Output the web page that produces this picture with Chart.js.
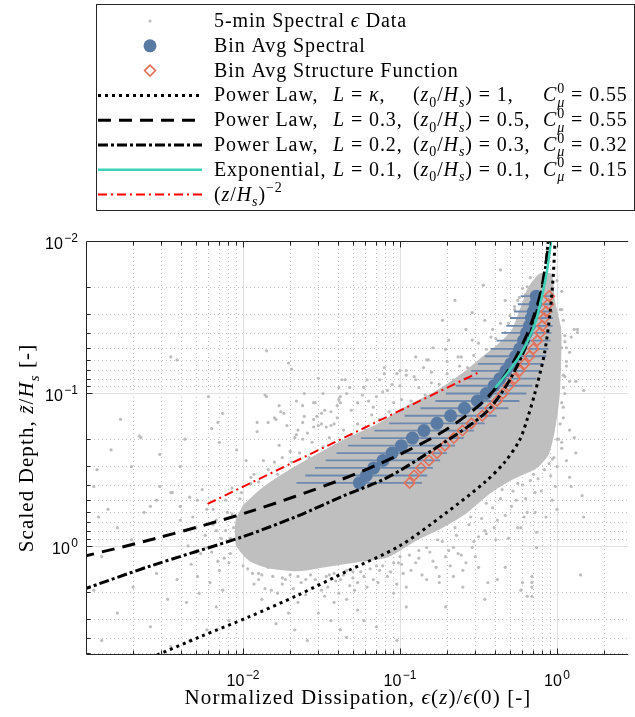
<!DOCTYPE html>
<html lang="en">
<head>
<meta charset="utf-8">
<title>Scaled depth vs normalized dissipation</title>
<script src="https://cdn.jsdelivr.net/npm/chart.js@4.4.1/dist/chart.umd.min.js"></script>
<style>
  html, body { margin: 0; padding: 0; background: #ffffff; }
  canvas { display: block; }
</style>
</head>
<body>
<canvas id="graphe" width="635" height="717"></canvas>
<script>
// depth of each bin, z/Hs (same bins for both averages)
const binDepth = [0.386, 0.345, 0.308, 0.275, 0.246, 0.220, 0.196, 0.175, 0.157, 0.140, 0.125, 0.112, 0.100,
  0.089, 0.080, 0.071, 0.064, 0.057, 0.051, 0.045, 0.040, 0.036, 0.032, 0.029, 0.026, 0.023]
// bin average of the spectral estimates, with the ends of its horizontal error bar
const specAvg = [0.055, 0.061, 0.068, 0.078, 0.089, 0.102, 0.120, 0.142, 0.172, 0.210, 0.257, 0.311, 0.354,
  0.397, 0.433, 0.472, 0.507, 0.545, 0.578, 0.612, 0.639, 0.667, 0.687, 0.707, 0.728, 0.738]
const specLo = [0.0219, 0.0249, 0.0287, 0.0336, 0.0394, 0.0467, 0.0563, 0.0688, 0.0853, 0.107, 0.135, 0.168, 0.196,
  0.226, 0.254, 0.284, 0.314, 0.347, 0.378, 0.412, 0.442, 0.475, 0.502, 0.532, 0.563, 0.587]
const specHi = [0.138, 0.149, 0.162, 0.180, 0.199, 0.224, 0.255, 0.295, 0.346, 0.412, 0.490, 0.576, 0.638,
  0.696, 0.739, 0.784, 0.819, 0.856, 0.883, 0.909, 0.923, 0.938, 0.940, 0.940, 0.942, 0.930]
// bin average of the structure function estimates
const sfAvg = [0.115, 0.123, 0.136, 0.153, 0.172, 0.193, 0.220, 0.250, 0.285, 0.334, 0.375, 0.415, 0.452,
  0.493, 0.538, 0.578, 0.621, 0.667, 0.707, 0.749, 0.782, 0.805, 0.829, 0.853, 0.878, 0.891]

// model curves (x = eps/eps0, y = z/Hs)
const kappaX = [0.00258, 0.00530, 0.0109, 0.0224, 0.0462, 0.0993, 0.196, 0.349, 0.466, 0.578, 0.649, 0.718, 0.828, 0.904, 0.944, 0.972, 0.986]
const kappaY = [5.42, 3.95, 2.92, 2.10, 1.46, 1.00, 0.608, 0.380, 0.281, 0.202, 0.145, 0.102, 0.0560, 0.0292, 0.0175, 0.0100, 0.00785]
const l03X = [0.000937, 0.00285, 0.0109, 0.0400, 0.0951, 0.196, 0.349, 0.500, 0.649, 0.771, 0.841, 0.891, 0.917]
const l03Y = [1.18, 0.887, 0.598, 0.375, 0.257, 0.173, 0.110, 0.0681, 0.0401, 0.0237, 0.0150, 0.0100, 0.00785]
const l02X = [0.000937, 0.00258, 0.00986, 0.0224, 0.0418, 0.0822, 0.169, 0.349, 0.500, 0.649, 0.771, 0.841, 0.879, 0.904]
const l02Y = [1.945, 1.352, 0.873, 0.635, 0.478, 0.358, 0.2275, 0.1343, 0.0815, 0.0459, 0.0251, 0.0155, 0.0100, 0.00785]
const expoX = [0.403, 0.500, 0.594, 0.718, 0.805, 0.865, 0.917, 0.944]
const expoY = [0.0921, 0.0701, 0.0542, 0.0356, 0.0226, 0.0155, 0.0100, 0.00785]
const puissX = [0.00595, 0.311]
const puissY = [0.530, 0.0734]

// 5-min estimates, stored as [log10(eps/eps0), log10(z/Hs)]
const cloudLog = [
  [-1.85,-1.28],[-1.71,-1.20],[-2.46,-1.24],[-1.85,-0.98],[-1.61,-1.00],[-1.49,-1.00],[-2.22,-0.98],[-2.13,-0.87],
  [-2.16,-0.81],[-2.20,-0.77],[-2.66,-0.72],[-1.77,-0.92],[-1.76,-0.88],[-1.74,-0.87],[-1.91,-0.81],[-1.84,-0.81],
  [-1.79,-0.83],[-1.66,-0.95],[-1.62,-0.92],[-1.55,-0.94],[-1.53,-0.85],[-1.44,-0.88],[-1.40,-0.84],[-1.52,-0.79],
  [-1.62,-0.81],[-1.66,-0.73],[-1.59,-0.74],[-1.55,-0.78],[-1.47,-0.78],[-1.42,-0.80],[-1.39,-0.96],[-1.39,-1.04],
  [-1.37,-1.09],[-1.86,-0.99],[-1.80,-0.84],[-1.91,-0.75],[-1.72,-0.79],[-1.67,-0.71],[-1.61,-0.85],[-1.54,-0.94],
  [-1.50,-0.87],[-1.44,-0.79],[-1.38,-0.94],[-1.34,-1.00],[-1.27,-0.94],[-1.23,-1.04],[-1.17,-0.91],[-1.13,-1.09],
  [-1.08,-1.02],[-1.02,-1.13],[-0.96,-1.15],[-0.90,-1.09],[-0.85,-1.17],[-0.82,-1.22],[-1.10,-1.17],[-1.35,-1.09],
  [-1.52,-1.10],[-1.69,-1.16],[-2.42,-1.22],[-2.15,-0.68],[-2.04,-0.63],[-1.98,-0.56],[-2.40,-0.52],[-2.65,-0.71],
  [-2.71,-0.52],[-2.46,-0.35],[-2.59,-0.26],[-2.29,-0.30],[-2.23,-0.24],[-2.40,-0.17],[-2.17,-0.17],[-2.11,-0.10],
  [-0.36,-1.81],[-0.47,-1.71],[-0.27,-1.57],[-0.65,-1.61],[-0.73,-1.48],[-0.54,-1.53],[-0.41,-1.42],[-0.69,-1.35],
  [-0.79,-1.30],[-0.90,-1.24],[-0.54,-1.35],[-1.10,-1.13],[-1.21,-1.09],[-1.00,-1.15],[-1.32,-1.04],[-1.38,-0.98],
  [-1.15,-0.98],[-1.48,-0.89],[-0.63,-1.24],[0.11,-1.42],[0.13,-1.40],[-0.19,-1.70],[-0.14,-1.72],[-0.58,-1.42],
  [-0.46,-1.48],[-0.33,-1.61],[-0.83,-1.22],[-0.71,-1.29],[-0.96,-1.12],[-1.05,-1.06],[-1.24,-0.99],[-1.40,-0.92],
  [-1.55,-0.83],[-1.65,-0.76],[-1.77,-0.66],[-1.87,-0.56],[-1.93,-0.47],
  [0.03,-1.67],[0.13,-1.42],[0.09,-1.37],[0.06,-1.30],[0.08,-1.27],[0.06,-1.21],[0.08,-1.08],[0.12,-1.08],
  [0.17,-1.02],[0.04,-1.04],[0.08,-0.76],[0.11,-0.71],[0.03,-0.68],[0.12,-0.61],[0.06,-0.56],[0.08,-0.45],
  [0.16,-0.33],[0.09,-0.39],[-0.01,-0.39],[-0.03,-0.30],[0.17,-0.19],[0.00,-0.24],[-0.07,-0.19],[-0.14,-0.22],
  [-0.21,-0.19],[-0.13,-0.09],[-0.23,-0.12],[0.15,0.19],[-0.16,0.24],[-0.22,0.24],[-0.19,0.33],[-0.16,0.33],
  [-1.82,0.29],[-1.73,0.22],[-1.65,0.20],[-1.61,0.14],[-1.54,0.22],[-1.50,0.29],[-1.42,0.18],[-1.38,0.22],
  [-1.34,0.16],[-1.27,0.24],[-1.29,0.29],[-1.23,0.20],[-1.17,0.22],[-1.13,0.16],[-1.08,0.20],[-1.04,0.11],
  [-1.00,0.07],[-0.98,0.18],[-0.96,0.27],[-0.90,0.11],[-0.83,0.22],[-0.77,0.14],[-0.75,0.20],[-0.71,0.07],
  [-0.66,0.01],[-0.63,0.05],[-0.60,0.16],[-0.54,0.01],[-0.50,-0.06],[-0.46,-0.10],[-0.39,-0.04],[-0.38,-0.17],
  [-0.33,0.14],[-0.29,-0.26],[-0.25,-0.12],[-0.19,-0.22],[-0.14,-0.35],[-0.16,0.27],[-0.13,0.01],[-1.48,0.33],
  [-1.42,0.37],[-1.52,0.44],[-1.44,0.49],[-1.34,0.35],[-1.27,0.42],[-1.23,0.49],[-1.38,0.55],[-1.34,0.60],
  [-1.79,0.51],[-1.71,0.44],[-1.65,0.37],[-1.88,0.35],[-1.94,0.18],[-1.90,0.22],[-1.84,0.14],[-1.77,0.09],
  [-0.96,0.40],[-1.04,0.31],[-0.60,0.27],[-0.50,0.14],[-0.44,0.24],[-0.46,0.35],[-0.83,0.01],[-0.75,0.24],
  [-0.66,0.20],[-0.58,0.11],[-0.38,0.22],[-0.23,0.29],[-0.16,0.20],[-0.71,0.40],[-1.15,0.53],[-1.02,0.62],
  [-1.59,0.62],[-1.67,0.55],
  [-2.95,-0.39],[-2.86,-0.24],[-2.92,-0.19],[-2.80,-0.12],[-2.90,0.07],[-2.95,0.29],[-2.71,-0.04],[-2.63,-0.22],
  [-2.55,-0.30],[-2.53,-0.39],[-2.45,-0.35],[-2.40,-0.26],[-2.34,-0.32],[-2.32,-0.19],[-2.26,-0.37],[-2.19,-0.24],
  [-2.17,-0.10],[-2.23,0.01],[-2.29,0.20],[-2.42,0.22],[-2.55,0.18],[-2.70,0.27],[-2.80,0.44],[-2.59,0.53],
  [-2.48,0.35],[-2.36,0.37],[-2.28,0.31],[-2.21,0.24],[-2.15,0.16],[-2.09,0.11],[-2.13,0.29],[-2.17,0.40],
  [-2.09,0.49],[-2.23,0.55],[-2.34,0.62],[-2.46,0.66],[-2.93,-0.50],[-2.84,-0.63],[-2.53,-0.60],[-2.37,-0.70],
  [-2.78,-0.83],[-2.90,0.62],
  [-1.80,-0.55],[-1.70,-0.62],[-1.62,-0.70],[-1.50,-0.80],[-1.31,-0.89],[-1.20,-0.95],[-1.11,-1.01],[-1.00,-1.05],
  [-0.91,-1.11],[-0.80,-1.14],[-0.70,-1.21],[-0.61,-1.24],[-0.50,-1.33],[-0.42,-1.37],[-0.36,-1.46],[-0.30,-1.51],
  [-0.25,-1.61],[-0.20,-1.65],[-1.95,-0.41],[-2.02,-0.31],[-2.07,-0.21],[-2.08,-0.05],
  [-2.00,0.13],[-1.90,0.18],[-1.75,0.21],[-1.60,0.22],[-1.45,0.19],[-1.30,0.17],[-1.15,0.13],[-1.01,0.11],
  [-0.88,0.03],[-0.76,-0.04],[-0.65,-0.12],[-0.55,-0.19],[-0.45,-0.28],[-0.35,-0.37],[-0.25,-0.41],[-0.15,-0.47],
  [-0.05,-0.54],[0.00,-0.70],[0.04,-0.91],[0.05,-1.11],[0.05,-1.34],[0.02,-1.55],
  // fringe just outside the dense core
  [-1.97,0.15],[-1.93,0.25],[-1.88,0.19],[-1.86,0.28],[-1.81,0.20],[-1.78,0.31],[-1.75,0.25],[-1.70,0.19],
  [-1.68,0.28],[-1.63,0.24],[-1.60,0.32],[-1.57,0.19],[-1.52,0.25],[-1.47,0.20],[-1.46,0.27],[-1.41,0.23],
  [-1.39,0.31],[-1.36,0.19],[-1.32,0.26],[-1.30,0.21],[-1.25,0.17],[-1.21,0.27],[-1.19,0.15],[-1.14,0.24],
  [-1.11,0.13],[-1.06,0.17],[-1.02,0.25],[-0.99,0.12],[-0.94,0.06],[-0.93,0.16],[-0.88,0.08],[-0.86,0.19],
  [-0.81,0.04],[-0.79,0.10],[-0.73,-0.03],[-0.69,0.03],[-0.68,0.13],[-0.64,-0.07],[-0.61,0.06],[-0.56,-0.14],
  [-0.53,-0.03],[-0.52,0.07],[-0.48,-0.18],[-0.45,-0.08],[-0.41,-0.25],[-0.40,-0.12],[-0.36,-0.31],[-0.33,-0.20],
  [-0.31,-0.05],[-0.28,-0.36],[-0.26,-0.30],[-0.22,-0.40],[-0.20,-0.31],[-0.17,-0.43],[-0.12,-0.44],[-0.10,-0.36],
  [-0.08,-0.50],[-0.04,-0.46],[-0.03,-0.57],[0.00,-0.52],
  [-2.10,-0.22],[-2.14,-0.05],[-2.08,0.05],[-2.19,-0.14],[-2.12,0.08],[-2.24,-0.07],[-2.06,-0.12],[-2.11,-0.30],
  [-2.27,0.05],[-2.16,0.10],[-2.30,-0.12],[-2.20,0.04],[-2.07,-0.38],[-2.35,0.00],[-2.33,0.12],
  [-2.01,-0.35],[-1.95,-0.45],[-1.90,-0.42],[-1.84,-0.50],[-1.78,-0.47],[-1.75,-0.58],[-1.69,-0.55],[-1.64,-0.61],
  [-1.58,-0.58],[-1.56,-0.68],[-1.49,-0.65],[-1.45,-0.71],[-1.41,-0.66],[-1.36,-0.76],[-1.31,-0.73],[-1.27,-0.80],
  [-1.22,-0.76],[-1.18,-0.86],[-1.13,-0.83],[-1.07,-0.88],[-1.04,-0.94],[-0.99,-0.96],[-0.93,-0.95],[-0.88,-1.04],
  [-0.84,-0.99],[-0.80,-1.07],[-0.75,-1.06],[-0.70,-1.13],[-0.66,-1.09],[-0.62,-1.18],[-0.57,-1.17],[-0.53,-1.25],
  [-0.50,-1.19],[-0.45,-1.29],[-0.42,-1.27],[-0.39,-1.36],[-0.33,-1.40],[-0.31,-1.46],[-0.27,-1.55],[-0.24,-1.63],
  [-0.22,-1.69],[-0.17,-1.76],
  [0.00,-1.74],[0.03,-1.55],[0.04,-1.48],[0.05,-1.38],[0.03,-1.30],[0.06,-1.18],[0.04,-1.12],[0.05,-1.00],
  [0.03,-0.94],[0.04,-0.84],[0.02,-0.80],[0.01,-0.70],[0.03,-0.64],[-0.02,-0.58]
]
// outline of the dense core of the cloud, same log10 form
const coreLog = [
  [-1.99,-0.27],[-1.87,-0.38],[-1.71,-0.49],[-1.52,-0.60],[-1.34,-0.70],[-1.15,-0.79],[-0.96,-0.91],[-0.77,-1.01],
  [-0.61,-1.12],[-0.48,-1.23],[-0.36,-1.33],[-0.28,-1.42],[-0.22,-1.58],[-0.18,-1.69],[-0.11,-1.78],[-0.04,-1.78],
  [-0.02,-1.61],[0.02,-1.42],[0.02,-1.22],[0.01,-0.98],[-0.02,-0.76],[-0.06,-0.60],[-0.14,-0.51],[-0.27,-0.45],
  [-0.43,-0.35],[-0.58,-0.22],[-0.74,-0.12],[-0.90,-0.04],[-1.08,0.07],[-1.27,0.10],[-1.46,0.13],[-1.65,0.16],
  [-1.84,0.14],[-1.96,0.09],[-2.04,-0.01],[-2.04,-0.17],[-1.99,-0.27]
]

const xTicks = [0.01, 0.1, 1]
const yTicks = [0.01, 0.1, 1]

const pts = (xs, ys) => xs.map((v, i) => ({x: v, y: ys[i]}))
const depuisLog = liste => liste.map(p => ({x: Math.pow(10, p[0]), y: Math.pow(10, p[1])}))

// error bars: one segment per bin, cut by an empty point
let barres = []
for (let i = 0; i < binDepth.length; i++) {
  barres.push({x: specLo[i], y: binDepth[i]}, {x: specHi[i], y: binDepth[i]}, {x: NaN, y: NaN})
}

const serif = '"Liberation Serif", "Times New Roman", serif'
const sans = '"Liberation Sans", Arial, sans-serif'

// text with italic / sub / sup pieces; a number moves the pen to that x
function texteRiche(ctx, morceaux, x, y, taille, dessiner) {
  let cx = x
  for (const m of morceaux) {
    if (typeof m === 'number') { cx = m; continue }
    const t = m[0], st = m[1]
    const petit = st.includes('b') || st.includes('p')
    const fs = petit ? Math.round(taille * 0.7) : taille
    ctx.font = (st.includes('i') ? 'italic ' : '') + fs + 'px ' + serif
    let dy = 0
    if (st.includes('b')) dy = taille * 0.27
    if (st.includes('p')) dy = -taille * 0.42
    if (dessiner) ctx.fillText(t, cx, y + dy)
    if (!st.includes('s')) cx += ctx.measureText(t).width
  }
  return cx - x
}

function puissanceDix(ctx, v, x, y, alignement) {
  const n = Math.round(Math.log10(v))
  const expo = n < 0 ? '\u2212' + (-n) : String(n)
  ctx.font = '16px ' + sans
  const w1 = ctx.measureText('10').width
  ctx.font = '12px ' + sans
  const w2 = ctx.measureText(expo).width
  const total = w1 + w2 + 1.5
  const x0 = alignement === 'droite' ? x - total : x - total / 2
  ctx.font = '16px ' + sans
  ctx.fillText('10', x0, y)
  ctx.font = '12px ' + sans
  ctx.fillText(expo, x0 + w1 + 1.5, y - 7)
}

// dotted minor grid and solid major grid
const grille = {
  id: 'grille',
  beforeDatasetsDraw(chart) {
    const {ctx, chartArea: a, scales: {x, y}} = chart
    ctx.save()
    ctx.lineWidth = 1
    ctx.strokeStyle = '#c4c4c4'
    ctx.setLineDash([1, 3])
    for (let d = -3; d <= 0; d++) {
      for (let m = 2; m <= 9; m++) {
        const v = m * Math.pow(10, d)
        if (v >= x.max) continue
        const px = Math.round(x.getPixelForValue(v)) + 0.5
        ctx.beginPath(); ctx.moveTo(px, a.top); ctx.lineTo(px, a.bottom); ctx.stroke()
      }
    }
    for (let d = -2; d <= 0; d++) {
      for (let m = 2; m <= 9; m++) {
        const v = m * Math.pow(10, d)
        if (v >= y.max) continue
        const py = Math.round(y.getPixelForValue(v)) + 0.5
        ctx.beginPath(); ctx.moveTo(a.left, py); ctx.lineTo(a.right, py); ctx.stroke()
      }
    }
    ctx.setLineDash([])
    ctx.strokeStyle = '#e1e1e1'
    xTicks.forEach(v => {
      const px = Math.round(x.getPixelForValue(v)) + 0.5
      ctx.beginPath(); ctx.moveTo(px, a.top); ctx.lineTo(px, a.bottom); ctx.stroke()
    })
    yTicks.forEach(v => {
      const py = Math.round(y.getPixelForValue(v)) + 0.5
      ctx.beginPath(); ctx.moveTo(a.left, py); ctx.lineTo(a.right, py); ctx.stroke()
    })
    ctx.restore()
  }
}

// axis box, inward ticks, tick labels, axis titles
const cadre = {
  id: 'cadre',
  afterDatasetsDraw(chart) {
    const {ctx, chartArea: a, scales: {x, y}} = chart
    ctx.save()
    ctx.strokeStyle = '#262626'
    ctx.lineWidth = 1
    const gauche = Math.round(a.left) + 0.5, haut = Math.round(a.top) + 0.5, bas = Math.round(a.bottom) - 0.5
    ctx.beginPath()
    ctx.moveTo(a.right, haut); ctx.lineTo(gauche, haut); ctx.lineTo(gauche, bas); ctx.lineTo(a.right, bas)
    ctx.stroke()
    for (let d = -3; d <= 0; d++) {
      for (let m = 1; m <= 9; m++) {
        const v = m * Math.pow(10, d)
        if (v <= x.min || v >= x.max) continue
        const px = Math.round(x.getPixelForValue(v)) + 0.5
        const l = m === 1 ? 6 : 4
        ctx.beginPath()
        ctx.moveTo(px, bas); ctx.lineTo(px, bas - l)
        ctx.moveTo(px, haut); ctx.lineTo(px, haut + l)
        ctx.stroke()
      }
    }
    for (let d = -2; d <= 0; d++) {
      for (let m = 1; m <= 9; m++) {
        const v = m * Math.pow(10, d)
        if (v <= y.min || v >= y.max) continue
        const py = Math.round(y.getPixelForValue(v)) + 0.5
        const l = m === 1 ? 6 : 4
        ctx.beginPath(); ctx.moveTo(gauche, py); ctx.lineTo(gauche + l, py); ctx.stroke()
      }
    }
    ctx.restore()
  },
  afterDraw(chart) {
    const {ctx, chartArea: a, scales: {x, y}} = chart
    ctx.save()
    ctx.fillStyle = '#000000'
    ctx.textBaseline = 'alphabetic'
    xTicks.forEach(v => puissanceDix(ctx, v, x.getPixelForValue(v), 686, 'centre'))
    yTicks.forEach(v => puissanceDix(ctx, v, 78, y.getPixelForValue(v) + 8, 'droite'))

    ctx.letterSpacing = '1.1px'
    const titreX = [['Normalized Dissipation, ', ''], ['ϵ', 'i'], ['(', ''], ['z', 'i'], [')/', ''], ['ϵ', 'i'], ['(0) [-]', '']]
    const wx = texteRiche(ctx, titreX, 0, 0, 21, false)
    texteRiche(ctx, titreX, 358 - wx / 2, 704, 21, true)

    const titreY = [['Scaled Depth, ', ''], ['z\u0303', 'i'], ['/', ''], ['H', 'i'], ['s', 'bi'], [' [-]', '']]
    const wy = texteRiche(ctx, titreY, 0, 0, 21, false)
    ctx.translate(33, (a.top + a.bottom) / 2)
    ctx.rotate(-Math.PI / 2)
    texteRiche(ctx, titreY, -wy / 2, 0, 21, true)
    ctx.restore()
  }
}

// legend box drawn on top of the canvas
const rangees = [
  [214, ['5-min Spectral ', ''], ['ϵ', 'i'], [' Data', '']],
  [214, ['Bin Avg Spectral', '']],
  [214, ['Bin Avg Structure Function', '']],
  [214, ['Power Law,', ''], 333, ['L', 'i'], [' = ', ''], ['κ', 'i'], [',', ''], 413, ['(', ''], ['z', 'i'], ['0', 'b'],
    ['/', ''], ['H', 'i'], ['s', 'bi'], [') = 1,', ''], 543, ['C', 'i'], ['0', 'ps'], ['μ', 'bi'], [' = 0.55', '']],
  [214, ['Power Law,', ''], 333, ['L', 'i'], [' = 0.3,', ''], 413, ['(', ''], ['z', 'i'], ['0', 'b'],
    ['/', ''], ['H', 'i'], ['s', 'bi'], [') = 0.5,', ''], 543, ['C', 'i'], ['0', 'ps'], ['μ', 'bi'], [' = 0.55', '']],
  [214, ['Power Law,', ''], 333, ['L', 'i'], [' = 0.2,', ''], 413, ['(', ''], ['z', 'i'], ['0', 'b'],
    ['/', ''], ['H', 'i'], ['s', 'bi'], [') = 0.3,', ''], 543, ['C', 'i'], ['0', 'ps'], ['μ', 'bi'], [' = 0.32', '']],
  [214, ['Exponential,', ''], 333, ['L', 'i'], [' = 0.1,', ''], 413, ['(', ''], ['z', 'i'], ['0', 'b'],
    ['/', ''], ['H', 'i'], ['s', 'bi'], [') = 0.1,', ''], 543, ['C', 'i'], ['0', 'ps'], ['μ', 'bi'], [' = 0.15', '']],
  [214, ['(', ''], ['z', 'i'], ['/', ''], ['H', 'i'], ['s', 'bi'], [')', ''], ['\u22122', 'p']]
]
const traits = [
  null, null, null,
  {couleur: '#000000', largeur: 3, tirets: [3, 4]},
  {couleur: '#000000', largeur: 3, tirets: [13, 8]},
  {couleur: '#000000', largeur: 3, tirets: [10, 3, 3, 3]},
  {couleur: '#3fd1b6', largeur: 2.5, tirets: []},
  {couleur: '#ff0000', largeur: 2, tirets: [9, 4, 2, 4]}
]

const legende = {
  id: 'legende',
  afterDraw(chart) {
    const ctx = chart.ctx
    ctx.save()
    ctx.fillStyle = '#ffffff'
    ctx.fillRect(96.5, 4.5, 538, 206)
    ctx.strokeStyle = '#262626'
    ctx.lineWidth = 1
    ctx.strokeRect(96.5, 4.5, 538, 206)
    const ligneY = i => 21 + i * 24.8
    // markers
    ctx.fillStyle = '#bdbdbd'
    ctx.beginPath(); ctx.arc(150, ligneY(0), 1.6, 0, 2 * Math.PI); ctx.fill()
    ctx.fillStyle = '#587aa3'
    ctx.beginPath(); ctx.arc(150, ligneY(1), 6.5, 0, 2 * Math.PI); ctx.fill()
    ctx.strokeStyle = '#e4705a'; ctx.lineWidth = 1.6
    const yd = ligneY(2)
    ctx.beginPath()
    ctx.moveTo(150, yd - 5.5); ctx.lineTo(155.5, yd); ctx.lineTo(150, yd + 5.5); ctx.lineTo(144.5, yd); ctx.closePath()
    ctx.stroke()
    traits.forEach((t, i) => {
      if (!t) return
      ctx.strokeStyle = t.couleur; ctx.lineWidth = t.largeur; ctx.setLineDash(t.tirets)
      ctx.beginPath(); ctx.moveTo(98, ligneY(i)); ctx.lineTo(202, ligneY(i)); ctx.stroke()
    })
    ctx.setLineDash([])
    ctx.fillStyle = '#000000'
    ctx.letterSpacing = '0.9px'
    rangees.forEach((r, i) => texteRiche(ctx, r, 214, ligneY(i) + 6, 20, true))
    ctx.restore()
  }
}

const ligne = (donnees, couleur, largeur, tirets, ordre) => ({
  data: donnees, showLine: true, borderColor: couleur, borderWidth: largeur, borderDash: tirets,
  pointRadius: 0, tension: 0.3, fill: false, clip: 0, order: ordre
})

const graphe = new Chart(document.getElementById('graphe'), {
  type: 'scatter',
  data: {
    datasets: [
      ligne(pts(expoX, expoY), '#3fd1b6', 2.5, [], 0),
      Object.assign(ligne(pts(puissX, puissY), '#ff0000', 2, [9, 4, 2, 4], 1), {tension: 0}),
      ligne(pts(l02X, l02Y), '#000000', 3, [10, 3, 3, 3], 2),
      ligne(pts(l03X, l03Y), '#000000', 3, [13, 8], 3),
      ligne(pts(kappaX, kappaY), '#000000', 3, [3, 4], 4),
      {
        data: pts(sfAvg, binDepth), pointStyle: 'rectRot', pointRadius: 5.2,
        pointBackgroundColor: 'rgba(0,0,0,0)', pointBorderColor: '#e4705a', pointBorderWidth: 1.6, clip: 0, order: 5
      },
      {
        data: pts(specAvg, binDepth), pointStyle: 'circle', pointRadius: 6.5,
        pointBackgroundColor: '#587aa3', pointBorderColor: '#587aa3', pointBorderWidth: 0, clip: 0, order: 6
      },
      {
        data: barres, showLine: true, spanGaps: false, borderColor: '#6d89ae', borderWidth: 1.8,
        pointRadius: 0, clip: 0, order: 7
      },
      {
        data: depuisLog(cloudLog), pointRadius: 1.6, pointBackgroundColor: '#bdbdbd',
        pointBorderWidth: 0, clip: 0, order: 8
      },
      {
        data: depuisLog(coreLog), showLine: true, fill: 'shape', backgroundColor: '#bfbfbf',
        borderColor: '#bfbfbf', borderWidth: 2, pointRadius: 0, tension: 0.2, clip: 0, order: 9
      }
    ]
  },
  options: {
    responsive: false,
    animation: false,
    events: [],
    layout: {padding: {left: 86, right: 0, top: 241, bottom: 62}},
    scales: {
      x: {type: 'logarithmic', display: false, min: 0.001, max: 2.84},
      y: {type: 'logarithmic', display: false, reverse: true, min: 0.01, max: 5.19}
    },
    plugins: {legend: {display: false}, tooltip: {enabled: false}}
  },
  plugins: [grille, cadre, legende]
})
</script>
</body>
</html>
